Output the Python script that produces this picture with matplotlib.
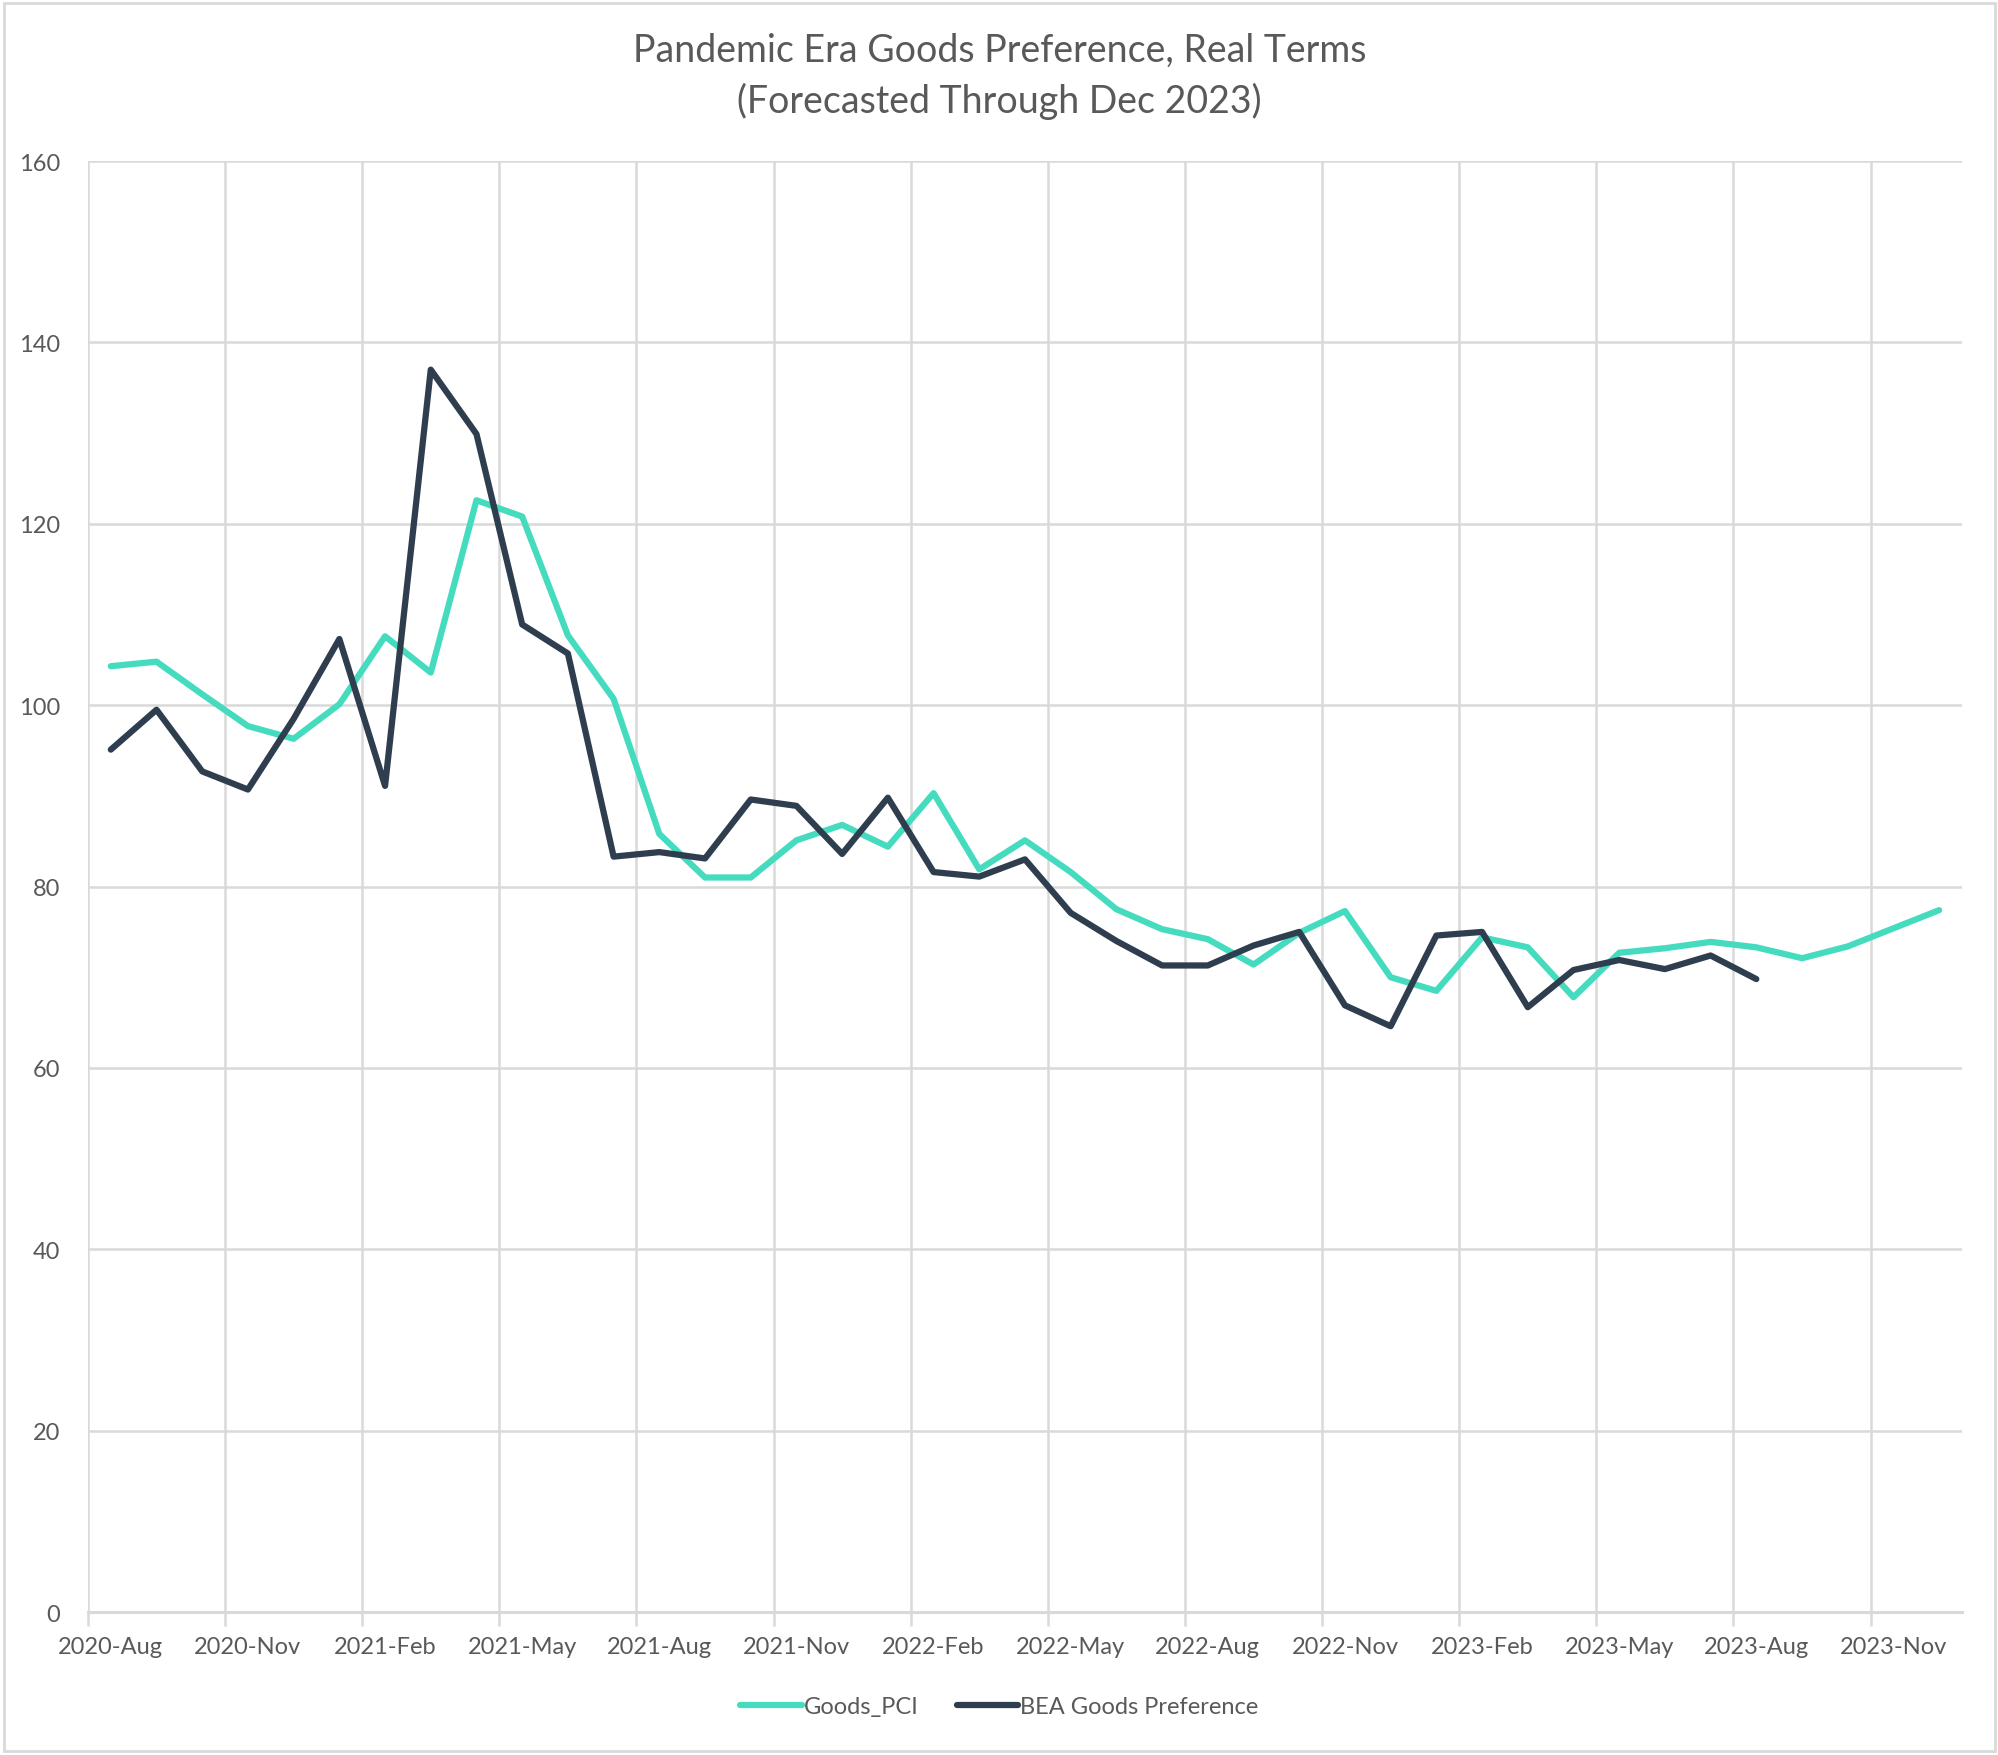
# Imports
import pandas as pd
import matplotlib.pyplot as plt
from matplotlib.patches import Rectangle

plt.rcParams['font.family'] = ['Lato', 'DejaVu Sans']

# Data (monthly, 2020-Aug through 2023-Dec)
months = pd.date_range('2020-08-01', periods=41, freq='MS').strftime('%Y-%b').tolist()

goods_pci = [104.3, 104.8, 101.2, 97.7, 96.3, 100.1, 107.6, 103.6, 122.6, 120.8,
             107.7, 100.7, 85.8, 81.0, 81.0, 85.1, 86.8, 84.4, 90.3, 81.9,
             85.1, 81.6, 77.5, 75.3, 74.2, 71.4, 74.9, 77.3, 70.0, 68.5,
             74.4, 73.3, 67.8, 72.7, 73.2, 73.9, 73.3, 72.1, 73.4, 75.4,
             77.4]

bea_goods_pref = [95.1, 99.5, 92.7, 90.7, 98.5, 107.3, 91.1, 137.0, 129.9, 108.9,
                  105.7, 83.3, 83.8, 83.1, 89.6, 88.9, 83.6, 89.8, 81.6, 81.1,
                  83.0, 77.1, 74.0, 71.3, 71.3, 73.5, 75.0, 66.9, 64.6, 74.6,
                  75.0, 66.7, 70.8, 71.9, 70.9, 72.4, 69.8]

df = pd.DataFrame({'Goods_PCI': goods_pci}, index=months)
df['BEA Goods Preference'] = pd.Series(bea_goods_pref, index=months[:len(bea_goods_pref)])

text_color = '#595959'
grid_color = '#D9D9D9'

# Plot the data
fig = plt.figure(figsize=(19.99, 17.56), dpi=100)
ax = fig.add_axes([0.044, 0.0814, 0.9375, 0.8263])

x = list(range(len(months)))
ax.plot(x, df['Goods_PCI'], color='#45DBBF', linewidth=4.5, label='Goods_PCI',
        solid_capstyle='round', solid_joinstyle='round', zorder=3)
ax.plot(x, df['BEA Goods Preference'], color='#2F3E4E', linewidth=4.5,
        label='BEA Goods Preference', solid_capstyle='round',
        solid_joinstyle='round', zorder=4)

## Axes and grid
ax.set_xlim(-0.5, len(months) - 0.5)
ax.set_ylim(0, 160)
ax.set_yticks(range(0, 161, 20))
ax.yaxis.grid(True, color=grid_color, linewidth=1.8)
for b in range(0, len(months), 3):
    ax.axvline(b - 0.5, color=grid_color, linewidth=1.8, zorder=1)
ax.set_axisbelow(True)

## Category labels every 3 months, tick marks at category boundaries
ax.set_xticks(range(0, len(months), 3))
ax.set_xticklabels(months[::3])
ax.set_xticks([b - 0.5 for b in range(0, len(months), 3)], minor=True)
ax.tick_params(axis='x', which='major', length=0, pad=17, labelsize=17, labelcolor=text_color)
ax.tick_params(axis='x', which='minor', length=10, width=1.8, color=grid_color)
ax.tick_params(axis='y', length=0, pad=20, labelsize=17, labelcolor=text_color)

for side in ['top', 'right', 'left']:
    ax.spines[side].set_visible(False)
ax.spines['bottom'].set_color(grid_color)
ax.spines['bottom'].set_linewidth(2.2)

## Title
fig.text(0.5, 1 - 51 / 1756, 'Pandemic Era Goods Preference, Real Terms',
         ha='center', va='center', fontsize=27, color=text_color)
fig.text(0.5, 1 - 101 / 1756, '(Forecasted Through Dec 2023)',
         ha='center', va='center', fontsize=27, color=text_color)

## Legend
fig.legend(loc='center', bbox_to_anchor=(0.5, 1 - 1708 / 1756), ncol=2, frameon=False,
           fontsize=17, handlelength=2.6, handletextpad=0.1, columnspacing=1.6,
           labelcolor=text_color)

## Chart border
fig.patches.append(Rectangle((0.002, 0.002), 0.996, 0.996, transform=fig.transFigure,
                             fill=False, edgecolor=grid_color, linewidth=2))

fig.savefig('out.png', dpi=100)
